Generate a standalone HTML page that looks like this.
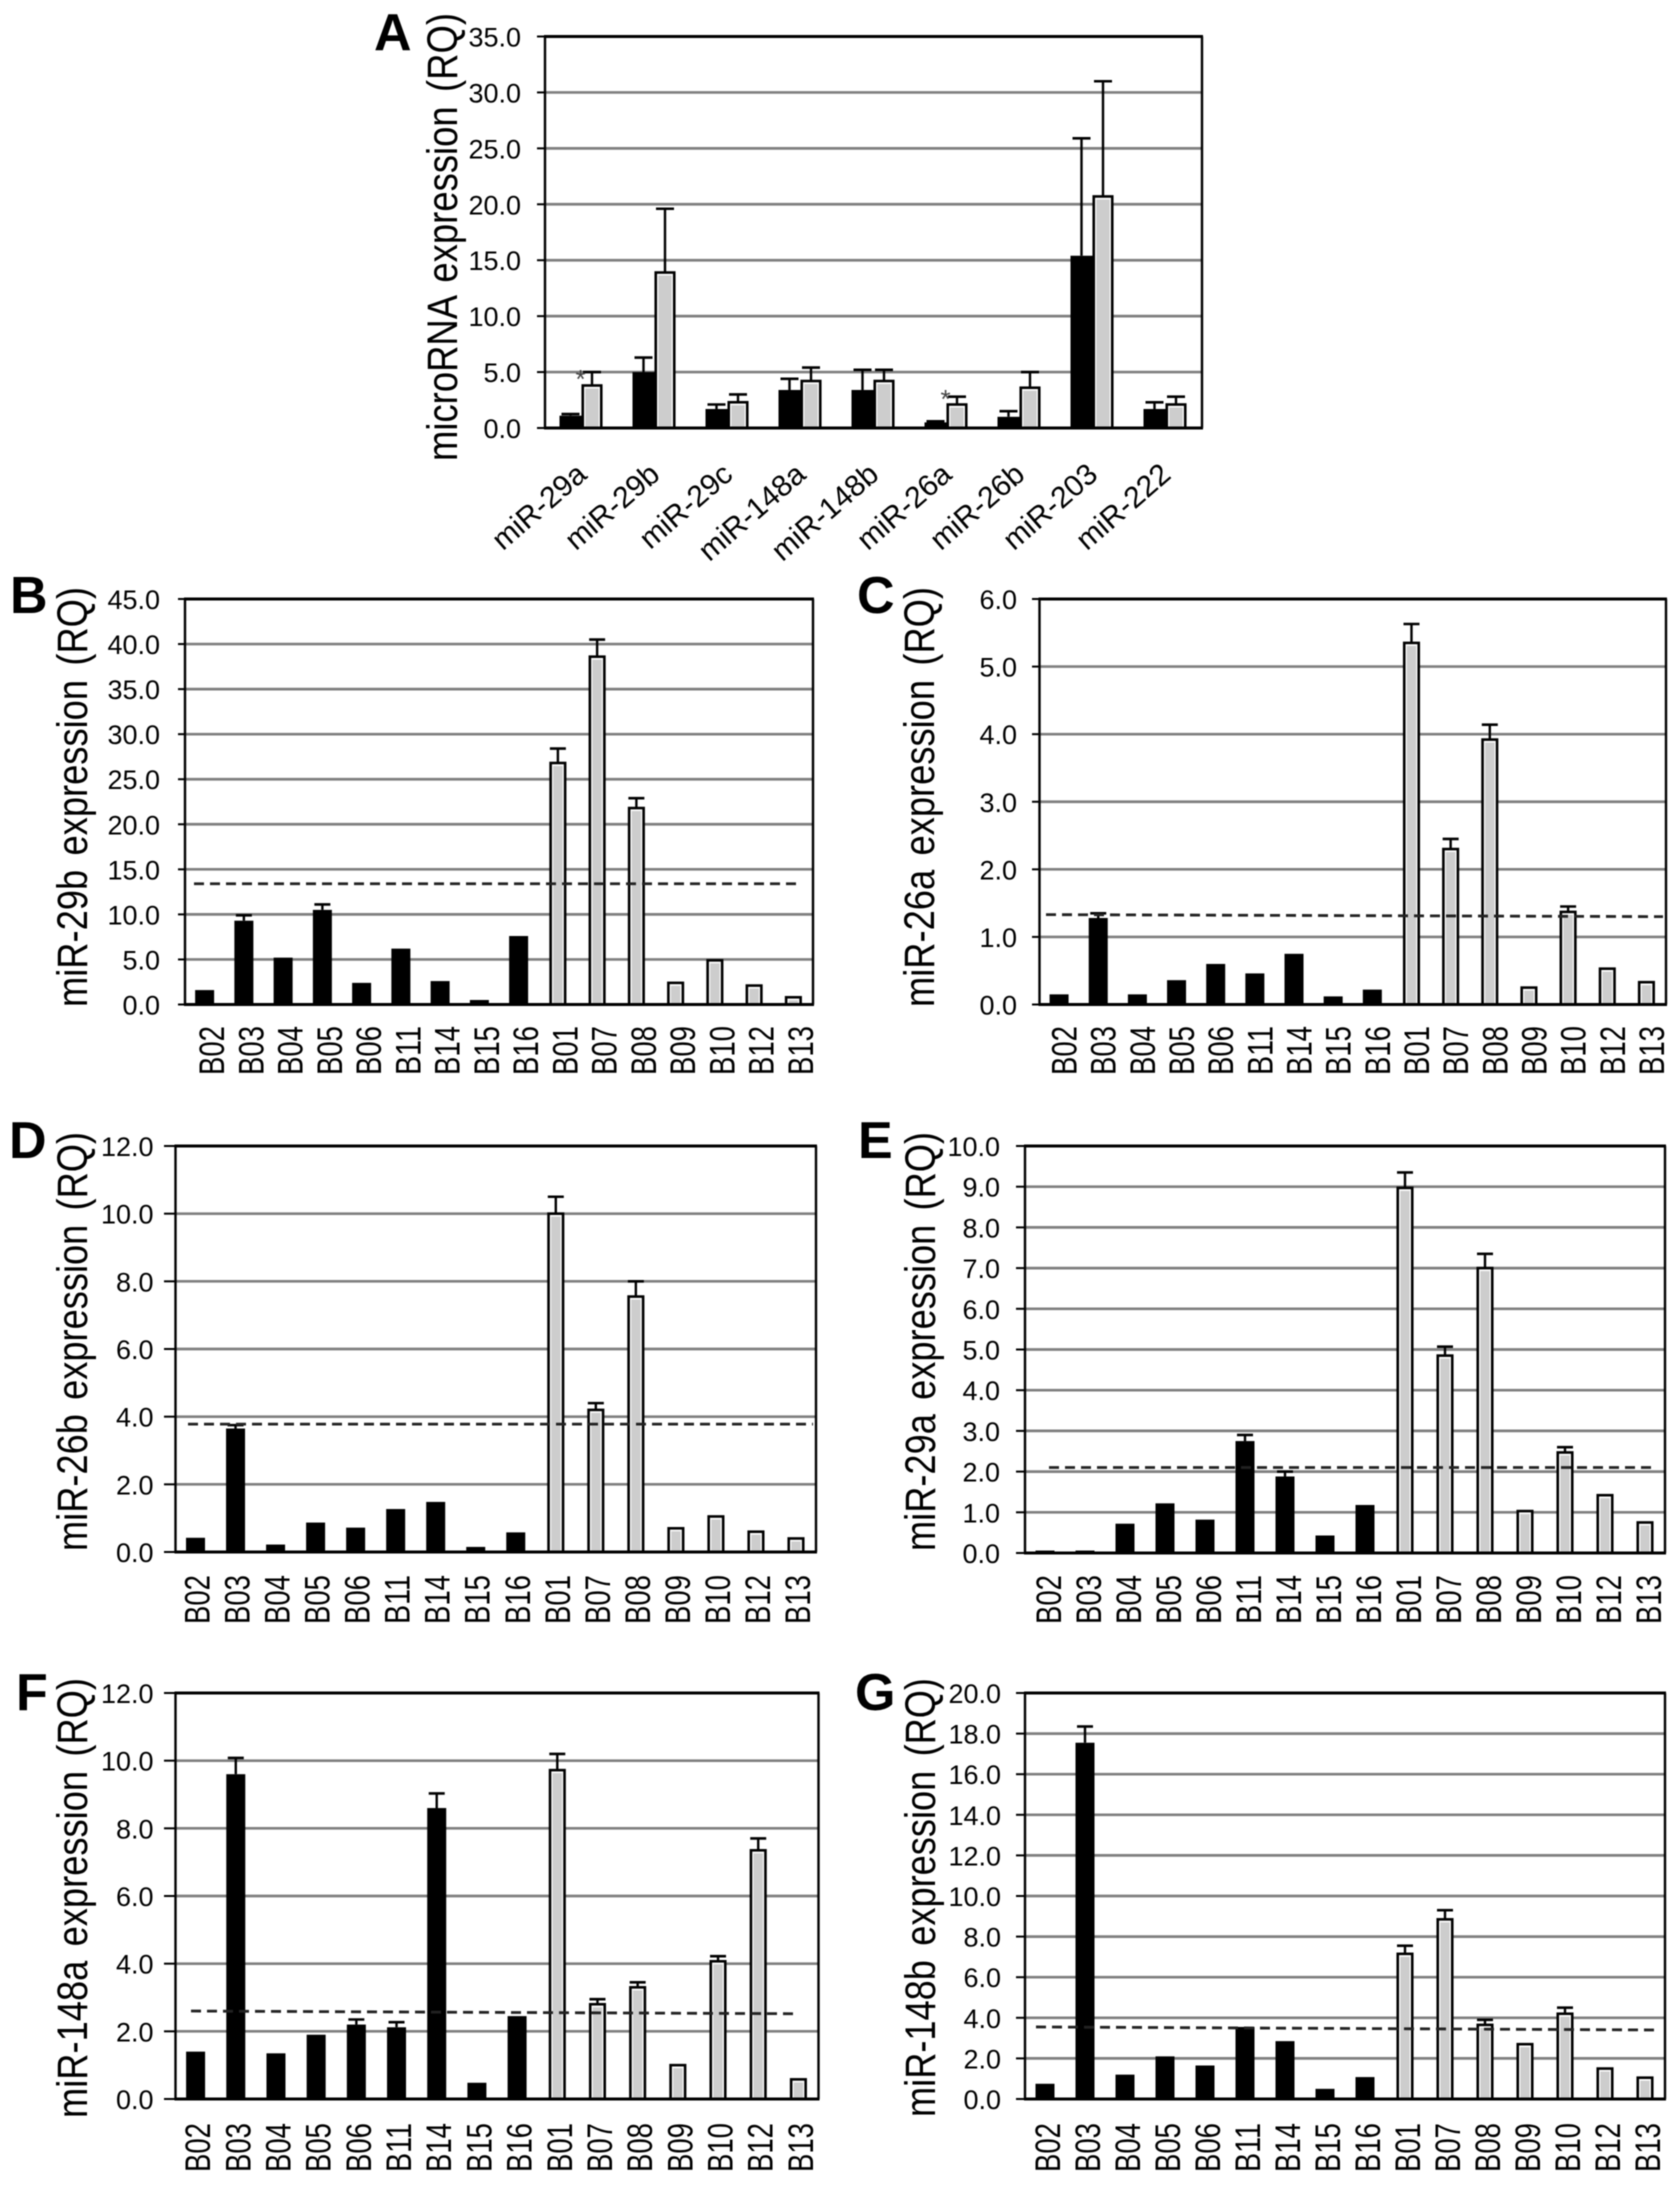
<!DOCTYPE html>
<html lang="en">
<head>
<meta charset="utf-8">
<title>microRNA expression panels</title>
<style>
html,body{margin:0;padding:0;background:#fff;}
svg{display:block;filter:blur(0.55px);}
text{font-family:"Liberation Sans",Arial,sans-serif;fill:#000;}
.letter{font-weight:700;font-size:52px;}
.ytitle{font-size:43px;word-spacing:5px;}
</style>
</head>
<body>
<svg id="figure" xmlns="http://www.w3.org/2000/svg" width="1677" height="2185" viewBox="0 0 1677 2185">
  <rect x="0" y="0" width="1677" height="2185" fill="#fff"/>
  <text class="letter" x="374" y="50">A</text>
  <text class="letter" x="10" y="613">B</text>
  <text class="letter" x="857" y="613">C</text>
  <text class="letter" x="9" y="1158">D</text>
  <text class="letter" x="858" y="1158">E</text>
  <text class="letter" x="16" y="1710">F</text>
  <text class="letter" x="855" y="1710">G</text>
  <text class="ytitle" transform="translate(457 461) rotate(-90)" textLength="448" lengthAdjust="spacingAndGlyphs">microRNA expression (RQ)</text>
  <text class="ytitle" transform="translate(87 1007) rotate(-90)" textLength="420" lengthAdjust="spacingAndGlyphs">miR-29b expression (RQ)</text>
  <text class="ytitle" transform="translate(934 1007) rotate(-90)" textLength="420" lengthAdjust="spacingAndGlyphs">miR-26a expression (RQ)</text>
  <text class="ytitle" transform="translate(87 1551) rotate(-90)" textLength="419" lengthAdjust="spacingAndGlyphs">miR-26b expression (RQ)</text>
  <text class="ytitle" transform="translate(935 1551) rotate(-90)" textLength="419" lengthAdjust="spacingAndGlyphs">miR-29a expression (RQ)</text>
  <text class="ytitle" transform="translate(87 2118) rotate(-90)" textLength="440" lengthAdjust="spacingAndGlyphs">miR-148a expression (RQ)</text>
  <text class="ytitle" transform="translate(935 2117) rotate(-90)" textLength="439" lengthAdjust="spacingAndGlyphs">miR-148b expression (RQ)</text>
</svg>
<script>
// Shared categories
const blackSamples = ["B02","B03","B04","B05","B06","B11","B14","B15","B16"];
const graySamples = ["B01","B07","B08","B09","B10","B12","B13"];
const mirnaNames = ["miR-29a","miR-29b","miR-29c","miR-148a","miR-148b","miR-26a","miR-26b","miR-203","miR-222"];

// Panel A
const ticksA = ["0.0","5.0","10.0","15.0","20.0","25.0","30.0","35.0"];
const blackA = [1.1,5.0,1.7,3.4,3.4,0.5,1.0,15.4,1.7];
const blackErrA = [1.25,6.3,2.1,4.4,5.2,0.6,1.5,25.9,2.3];
const grayA = [3.8,13.9,2.3,4.2,4.2,2.1,3.6,20.7,2.1];
const grayErrA = [5.0,19.6,3.0,5.4,5.2,2.8,5.0,31.0,2.8];
const starsA = [5.0,0,0,0,0,3.2,0,0,0];

// Panel B
const ticksB = ["0.0","5.0","10.0","15.0","20.0","25.0","30.0","35.0","40.0","45.0"];
const blackB = [1.6,9.3,5.2,10.5,2.4,6.2,2.6,0.5,7.6];
const blackErrB = [0,9.9,0,11.1,0,0,0,0,0];
const grayB = [26.8,38.6,21.8,2.4,4.9,2.1,0.8];
const grayErrB = [28.4,40.5,22.9,0,0,0,0];
const thresholdB = [13.4,13.4];

// Panel C
const ticksC = ["0.0","1.0","2.0","3.0","4.0","5.0","6.0"];
const blackC = [0.15,1.28,0.15,0.36,0.6,0.46,0.75,0.12,0.22];
const blackErrC = [0,1.35,0,0,0,0,0,0,0];
const grayC = [5.35,2.3,3.92,0.25,1.37,0.53,0.33];
const grayErrC = [5.63,2.45,4.14,0,1.45,0,0];
const thresholdC = [1.33,1.30];

// Panel D
const ticksD = ["0.0","2.0","4.0","6.0","8.0","10.0","12.0"];
const blackD = [0.42,3.65,0.22,0.87,0.72,1.27,1.48,0.15,0.58];
const blackErrD = [0,3.75,0,0,0,0,0,0,0];
const grayD = [10.0,4.2,7.55,0.7,1.05,0.6,0.4];
const grayErrD = [10.5,4.4,8.0,0,0,0,0];
const thresholdD = [3.78,3.78];

// Panel E
const ticksE = ["0.0","1.0","2.0","3.0","4.0","5.0","6.0","7.0","8.0","9.0","10.0"];
const blackE = [0.06,0.06,0.72,1.22,0.82,2.75,1.88,0.43,1.18];
const blackErrE = [0,0,0,0,0,2.9,2.0,0,0];
const grayE = [8.97,4.85,7.0,1.03,2.47,1.42,0.75];
const grayErrE = [9.35,5.07,7.35,0,2.6,0,0];
const thresholdE = [2.1,2.1];

// Panel F
const ticksF = ["0.0","2.0","4.0","6.0","8.0","10.0","12.0"];
const blackF = [1.4,9.6,1.35,1.9,2.2,2.12,8.6,0.48,2.45];
const blackErrF = [0,10.08,0,0,2.35,2.27,9.03,0,0];
const grayF = [9.72,2.8,3.3,1.0,4.07,7.35,0.58];
const grayErrF = [10.2,2.95,3.45,0,4.22,7.7,0];
const thresholdF = [2.6,2.52];

// Panel G
const ticksG = ["0.0","2.0","4.0","6.0","8.0","10.0","12.0","14.0","16.0","18.0","20.0"];
const blackG = [0.75,17.55,1.2,2.1,1.65,3.55,2.85,0.5,1.08];
const blackErrG = [0,18.35,0,0,0,0,0,0,0];
const grayG = [7.15,8.85,3.65,2.7,4.2,1.5,1.05];
const grayErrG = [7.55,9.3,3.9,0,4.5,0,0];
const thresholdG = [3.55,3.4];

const NS = "http://www.w3.org/2000/svg";
const figure = document.getElementById("figure");

function node(parent, tag, attrs, content) {
  const el = document.createElementNS(NS, tag);
  for (const k in attrs) el.setAttribute(k, attrs[k]);
  if (content !== undefined) el.textContent = content;
  parent.appendChild(el);
  return el;
}

function linearY(top, bottom, maxVal) {
  return function (v) { return bottom - (v / maxVal) * (bottom - top); };
}

function drawFrame(g, box, ticks, y) {
  ticks.forEach(function (label) {
    const v = parseFloat(label);
    const py = y(v);
    if (v > 0 && py > box.top + 1) {
      const grid = node(g, "line", {x1: box.left, x2: box.right, y1: py, y2: py, stroke: "#7f7f7f", "stroke-width": 2.7});
      
      
    }
    const tl = node(g, "text", {x: box.tickRight, y: py + 10, "text-anchor": "end", "font-size": 27}, label);
    
    
  });
}

function drawAxes(g, box, ticks, y) {
  ticks.forEach(function (label) {
    const py = y(parseFloat(label));
    const tick = node(g, "line", {x1: box.tickLeft, x2: box.left, y1: py, y2: py, stroke: "#000", "stroke-width": 2});
    
    
  });
  const top = node(g, "line", {x1: box.left - 1, x2: box.right + 1, y1: box.top, y2: box.top, stroke: "#000", "stroke-width": 3});
  
  
  const leftAxis = node(g, "line", {x1: box.left, x2: box.left, y1: box.top, y2: box.bottom, stroke: "#000", "stroke-width": 2.4});
  
  
  const rightAxis = node(g, "line", {x1: box.right, x2: box.right, y1: box.top, y2: box.bottom, stroke: "#000", "stroke-width": 2.4});
  
  
  const bottomAxis = node(g, "line", {x1: box.left - 1, x2: box.right + 1, y1: box.bottom, y2: box.bottom, stroke: "#000", "stroke-width": 3});
  
  
}

function drawError(g, cx, value, errTop, y, capW) {
  if (!errTop || errTop <= value) return;
  const stem = node(g, "line", {x1: cx, x2: cx, y1: y(value), y2: y(errTop), stroke: "#000", "stroke-width": 2.4});
  
  
  const cap = node(g, "line", {x1: cx - capW / 2, x2: cx + capW / 2, y1: y(errTop), y2: y(errTop), stroke: "#000", "stroke-width": 2.6});
  
  
}

function drawBlackBar(g, x, w, value, y, bottom) {
  const bar = node(g, "rect", {x: x, y: y(value), width: w, height: bottom - y(value), fill: "#000"});
  
  
}

function drawGrayBar(g, x, w, value, y, bottom) {
  const py = y(value);
  const h = bottom - py;
  const outer = node(g, "rect", {x: x + 1.25, y: py, width: w - 2.5, height: h, fill: "#fff", stroke: "#000", "stroke-width": 2.6});
  
  
  const inset = 3.8;
  const innerH = Math.max(0, h - 4);
  const inner = node(g, "rect", {x: x + inset, y: py + 3, width: w - inset * 2, height: innerH, fill: "#cdcdcd"});
  
  
}

function drawSamplePanel(name, box, ticks, black, blackErr, gray, grayErr, threshold) {
  const g = node(figure, "g", {});
  
  
  const y = linearY(box.top, box.bottom, parseFloat(ticks[ticks.length - 1]));
  const labels = blackSamples.concat(graySamples);
  const step = (box.right - box.left) / labels.length;
  const cx = function (i) { return box.left + (i + 0.5) * step; };
  drawFrame(g, box, ticks, y);
  black.forEach(function (v, i) {
    drawBlackBar(g, cx(i) - 9.5, 19, v, y, box.bottom);
    drawError(g, cx(i), v, blackErr[i], y, 16);
  });
  gray.forEach(function (v, i) {
    const c = cx(i + black.length);
    drawGrayBar(g, c - 8.5, 17, v, y, box.bottom);
    drawError(g, c, v, grayErr[i], y, 16);
  });
  const dash = node(g, "line", {x1: box.dashStart, x2: box.dashEnd, y1: y(threshold[0]), y2: y(threshold[1]), stroke: "#222", "stroke-width": 2.8, "stroke-dasharray": "10 6"});
  
  
  drawAxes(g, box, ticks, y);
  labels.forEach(function (label, i) {
    const bx = cx(i) + box.labelShift;
    const t = node(g, "text", {transform: "translate(" + bx + " " + box.labelBottom + ") rotate(-90)", "font-size": 35, textLength: 49, lengthAdjust: "spacingAndGlyphs"}, label);
    
    
  });
}

function drawGroupPanel(box, ticks, black, blackErr, gray, grayErr, stars) {
  const g = node(figure, "g", {});
  
  
  const y = linearY(box.top, box.bottom, parseFloat(ticks[ticks.length - 1]));
  const step = (box.right - box.left) / mirnaNames.length;
  const cx = function (i) { return box.left + (i + 0.5) * step; };
  drawFrame(g, box, ticks, y);
  black.forEach(function (v, i) {
    drawBlackBar(g, cx(i) - 22, 22, v, y, box.bottom);
    drawError(g, cx(i) - 11, v, blackErr[i], y, 18);
  });
  gray.forEach(function (v, i) {
    drawGrayBar(g, cx(i), 21, v, y, box.bottom);
    drawError(g, cx(i) + 10.5, v, grayErr[i], y, 18);
  });
  stars.forEach(function (v, i) {
    if (!v) return;
    const s = node(g, "text", {x: cx(i) - 1, y: y(v) + 16, "text-anchor": "middle", "font-size": 26, style: "fill:#444"}, "*");
    
    
  });
  drawAxes(g, box, ticks, y);
  mirnaNames.forEach(function (label, i) {
    const t = node(g, "text", {transform: "translate(" + (cx(i) + 7) + " " + box.labelTop + ") rotate(-41)", "font-size": 30, "text-anchor": "end"}, label);
    
    
  });
}

drawGroupPanel({left: 545, right: 1202, top: 36.5, bottom: 428, tickLeft: 537, tickRight: 521, labelTop: 477},
  ticksA, blackA, blackErrA, grayA, grayErrA, starsA);

drawSamplePanel("b", {left: 185, right: 813, top: 599, bottom: 1004.5, tickLeft: 178, tickRight: 160, dashStart: 194, dashEnd: 802, labelShift: 19.5, labelBottom: 1075},
  ticksB, blackB, blackErrB, grayB, grayErrB, thresholdB);
drawSamplePanel("c", {left: 1039.5, right: 1666, top: 599, bottom: 1004.5, tickLeft: 1032, tickRight: 1017, dashStart: 1046, dashEnd: 1663, labelShift: 17.5, labelBottom: 1075},
  ticksC, blackC, blackErrC, grayC, grayErrC, thresholdC);
drawSamplePanel("d", {left: 175.5, right: 816, top: 1146, bottom: 1552, tickLeft: 164, tickRight: 153.5, dashStart: 188, dashEnd: 813, labelShift: 14, labelBottom: 1624},
  ticksD, blackD, blackErrD, grayD, grayErrD, thresholdD);
drawSamplePanel("e", {left: 1025, right: 1665, top: 1146, bottom: 1553, tickLeft: 1016, tickRight: 1000, dashStart: 1049, dashEnd: 1655, labelShift: 16, labelBottom: 1624},
  ticksE, blackE, blackErrE, grayE, grayErrE, thresholdE);
drawSamplePanel("f", {left: 175.5, right: 818.5, top: 1693, bottom: 2099, tickLeft: 164, tickRight: 153.5, dashStart: 191, dashEnd: 797, labelShift: 14.5, labelBottom: 2172},
  ticksF, blackF, blackErrF, grayF, grayErrF, thresholdF);
drawSamplePanel("g", {left: 1025, right: 1665, top: 1693, bottom: 2099, tickLeft: 1016, tickRight: 1001, dashStart: 1036, dashEnd: 1654, labelShift: 15, labelBottom: 2172},
  ticksG, blackG, blackErrG, grayG, grayErrG, thresholdG);
</script>
</body>
</html>
